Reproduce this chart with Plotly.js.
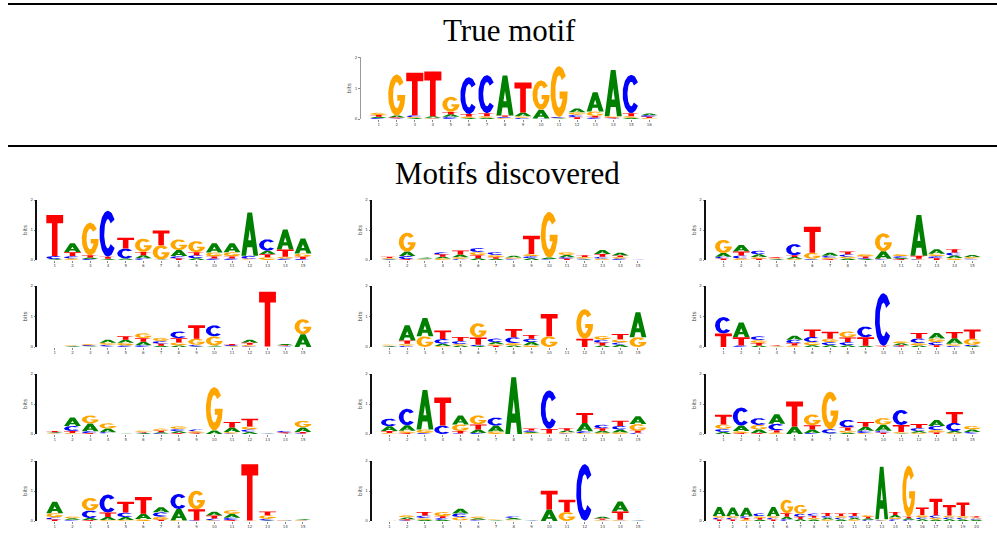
<!DOCTYPE html>
<html>
<head>
<meta charset="utf-8">
<script src="https://cdn.plot.ly/plotly-3.0.1.min.js"></script>
<style>
html, body { margin: 0; padding: 0; background: #fff; }
#chart { width: 997px; height: 547px; }
</style>
</head>
<body>
<div id="chart"></div>
<script>
// Information content (bits) of each base at each motif position.

// True motif, 16 positions
const trueA = [0.04,0.06,0.03,0.05,0.08,0.03,0.04,1.30,0.12,0.28,0.02,0.12,0.63,1.50,0.04,0.06];
const trueC = [0.03,0.02,0.06,0.02,0.07,1.19,1.23,0.04,0.04,0.01,0.03,0.08,0.05,0.02,1.24,0.05];
const trueG = [0.07,1.33,0.03,0.02,0.49,0.05,0.05,0.03,0.05,0.95,1.64,0.08,0.14,0.04,0.05,0.03];
const trueT = [0.06,0.03,1.38,1.45,0.08,0.08,0.10,0.04,0.97,0.01,0.02,0.06,0.05,0.03,0.10,0.04];

// Discovered motif 1
const m1A = [0.02,0.30,0.05,0.03,0.04,0.10,0.01,0.20,0.06,0.31,0.30,1.44,0.12,0.67,0.50];
const m1C = [0.10,0.08,0.03,1.53,0.33,0.06,0.01,0.08,0.10,0.05,0.05,0.10,0.38,0.05,0.03];
const m1G = [0.01,0.05,1.08,0.01,0.01,0.44,0.47,0.36,0.37,0.13,0.14,0.02,0.09,0.06,0.11];
const m1T = [1.37,0.13,0.08,0.07,0.36,0.11,0.49,0.05,0.10,0.07,0.07,0.02,0.10,0.24,0.08];

// Discovered motif 2
const m2A = [0.02,0.15,0.03,0.06,0.09,0.06,0.04,0.06,0.06,0.05,0.08,0.02,0.13,0.09,0.003];
const m2C = [0.02,0.10,0.01,0.08,0.04,0.13,0.10,0.02,0.07,0.02,0.05,0.03,0.07,0.05,0.003];
const m2G = [0.03,0.63,0.02,0.05,0.05,0.11,0.08,0.04,0.07,1.52,0.10,0.05,0.04,0.05,0.003];
const m2T = [0.04,0.03,0.02,0.07,0.14,0.10,0.05,0.02,0.61,0.01,0.04,0.06,0.09,0.05,0.003];

// Discovered motif 3
const m3A = [0.12,0.22,0.09,0.02,0.06,0.01,0.10,0.05,0.03,0.25,0.04,1.36,0.15,0.08,0.07];
const m3C = [0.06,0.10,0.12,0.01,0.37,0.03,0.06,0.08,0.03,0.02,0.06,0.02,0.07,0.10,0.03];
const m3G = [0.44,0.05,0.06,0.03,0.04,0.20,0.05,0.06,0.08,0.60,0.07,0.02,0.08,0.07,0.05];
const m3T = [0.05,0.13,0.04,0.03,0.06,0.87,0.03,0.09,0.06,0.02,0.03,0.10,0.06,0.11,0.02];

// Discovered motif 4
const m4A = [0.005,0.02,0.02,0.10,0.10,0.11,0.04,0.05,0.02,0.03,0.01,0.10,0.005,0.04,0.42];
const m4C = [0.005,0.01,0.03,0.05,0.05,0.06,0.09,0.22,0.05,0.36,0.03,0.02,0.005,0.02,0.0];
const m4G = [0.005,0.02,0.03,0.07,0.09,0.16,0.10,0.10,0.20,0.30,0.02,0.05,0.005,0.01,0.49];
const m4T = [0.005,0.01,0.02,0.02,0.11,0.12,0.07,0.14,0.44,0.02,0.04,0.07,1.80,0.03,0.0];

// Discovered motif 5
const m5A = [0.02,0.50,0.60,0.08,0.05,0.03,0.07,0.05,0.10,0.0,0.003,0.0,0.05,0.07,0.82];
const m5C = [0.01,0.04,0.0,0.15,0.10,0.04,0.12,0.19,0.11,0.0,0.003,0.0,0.10,0.08,0.0];
const m5G = [0.03,0.07,0.35,0.03,0.05,0.47,0.05,0.08,0.06,0.35,0.003,0.97,0.12,0.10,0.32];
const m5T = [0.02,0.10,0.0,0.28,0.13,0.24,0.04,0.27,0.12,0.73,0.003,0.27,0.09,0.18,0.0];

// Discovered motif 6
const m6A = [0.0,0.48,0.05,0.01,0.13,0.06,0.06,0.06,0.04,0.0,0.06,0.05,0.18,0.18,0.03];
const m6C = [0.54,0.05,0.12,0.0,0.12,0.17,0.10,0.10,0.35,1.72,0.02,0.15,0.10,0.04,0.04];
const m6G = [0.0,0.0,0.10,0.02,0.05,0.10,0.11,0.20,0.0,0.01,0.07,0.08,0.12,0.07,0.20];
const m6T = [0.44,0.27,0.08,0.03,0.07,0.24,0.23,0.15,0.28,0.03,0.04,0.18,0.06,0.20,0.30];

// Discovered motif 7
const m7A = [0.03,0.28,0.26,0.12,0.01,0.03,0.04,0.06,0.01,0.12,0.15,0.07,0.01,0.01,0.15];
const m7C = [0.01,0.17,0.06,0.04,0.01,0.01,0.02,0.08,0.06,0.0,0.02,0.08,0.01,0.05,0.02];
const m7G = [0.02,0.03,0.27,0.18,0.005,0.05,0.07,0.09,0.05,1.44,0.05,0.10,0.01,0.01,0.22];
const m7T = [0.04,0.07,0.03,0.02,0.005,0.03,0.05,0.03,0.03,0.0,0.18,0.26,0.01,0.03,0.05];

// Discovered motif 8
const m8A = [0.16,0.18,1.32,0.0,0.30,0.12,0.20,1.89,0.04,0.0,0.06,0.28,0.07,0.10,0.26];
const m8C = [0.25,0.55,0.03,0.28,0.02,0.03,0.27,0.0,0.05,1.28,0.02,0.06,0.12,0.12,0.04];
const m8G = [0.03,0.08,0.12,0.0,0.22,0.30,0.08,0.0,0.03,0.02,0.04,0.03,0.04,0.05,0.22];
const m8T = [0.07,0.03,0.0,0.94,0.08,0.17,0.0,0.0,0.06,0.15,0.07,0.33,0.08,0.17,0.07];

// Discovered motif 9
const m9A = [0.07,0.18,0.12,0.32,0.25,0.12,0.02,0.04,0.13,0.20,0.02,0.06,0.20,0.06,0.08];
const m9C = [0.10,0.60,0.23,0.22,0.0,0.03,0.14,0.25,0.08,0.07,0.50,0.10,0.14,0.27,0.05];
const m9G = [0.15,0.07,0.15,0.05,0.0,0.36,1.25,0.08,0.03,0.22,0.05,0.04,0.08,0.04,0.12];
const m9T = [0.32,0.03,0.03,0.07,0.83,0.14,0.0,0.10,0.16,0.04,0.23,0.13,0.05,0.36,0.02];

// Discovered motif 10
const m10A = [0.38,0.05,0.07,0.10,0.10,0.17,0.17,0.38,0.0,0.13,0.12,0.005,0.02,0.01,0.03];
const m10C = [0.07,0.03,0.25,0.60,0.15,0.0,0.15,0.50,0.02,0.06,0.08,0.005,0.05,0.01,0.01];
const m10G = [0.14,0.06,0.42,0.03,0.03,0.07,0.10,0.02,0.62,0.02,0.13,0.005,0.12,0.01,0.02];
const m10T = [0.05,0.01,0.03,0.15,0.36,0.56,0.04,0.0,0.37,0.10,0.03,1.88,0.13,0.005,0.0];

// Discovered motif 11
const m11A = [0.005,0.06,0.04,0.04,0.16,0.05,0.02,0.05,0.01,0.38,0.0,0.005,0.06,0.33,0.01];
const m11C = [0.005,0.02,0.08,0.06,0.12,0.02,0.005,0.06,0.01,0.0,0.0,1.88,0.01,0.01,0.01];
const m11G = [0.005,0.07,0.06,0.14,0.11,0.06,0.02,0.03,0.01,0.0,0.30,0.005,0.03,0.03,0.01];
const m11T = [0.005,0.04,0.12,0.06,0.02,0.02,0.01,0.02,0.01,0.63,0.41,0.005,0.04,0.28,0.01];

// Discovered motif 12, 20 positions
const m12A = [0.30,0.28,0.28,0.05,0.30,0.08,0.06,0.05,0.06,0.05,0.06,0.05,1.75,0.08,0.05,0.06,0.05,0.06,0.05,0.04];
const m12C = [0.06,0.06,0.06,0.10,0.06,0.06,0.10,0.08,0.06,0.06,0.06,0.04,0.02,0.06,0.04,0.06,0.08,0.06,0.06,0.04];
const m12G = [0.06,0.06,0.05,0.06,0.06,0.45,0.30,0.06,0.05,0.06,0.05,0.06,0.02,0.06,1.70,0.08,0.06,0.06,0.06,0.04];
const m12T = [0.05,0.05,0.05,0.05,0.05,0.12,0.08,0.06,0.10,0.08,0.10,0.05,0.02,0.10,0.05,0.25,0.55,0.35,0.45,0.04];

const BASES = ['A', 'C', 'G', 'T'];
const BASE_COLORS = { A: '#008000', C: '#0000ff', G: '#ffa500', T: '#ff0000' };

// Plot boxes in pixels: left, right, top (2 bits), bottom (0 bits)
const panels = [
  { A: trueA, C: trueC, G: trueG, T: trueT, box: [360.7, 667.3, 57.3, 119.0], spine: '#9a9a9a', spineWidth: 1 },
  { A: m1A,  C: m1C,  G: m1G,  T: m1T,  box: [37.0, 320.7, 200, 260] },
  { A: m2A,  C: m2C,  G: m2G,  T: m2T,  box: [371.7, 655.7, 200, 260] },
  { A: m3A,  C: m3C,  G: m3G,  T: m3T,  box: [705.7, 990.0, 200, 260] },
  { A: m4A,  C: m4C,  G: m4G,  T: m4T,  box: [37.0, 320.7, 286, 347] },
  { A: m5A,  C: m5C,  G: m5G,  T: m5T,  box: [371.7, 655.7, 286, 347] },
  { A: m6A,  C: m6C,  G: m6G,  T: m6T,  box: [705.7, 990.0, 286, 347] },
  { A: m7A,  C: m7C,  G: m7G,  T: m7T,  box: [37.0, 320.7, 374, 434] },
  { A: m8A,  C: m8C,  G: m8G,  T: m8T,  box: [371.7, 655.7, 374, 434] },
  { A: m9A,  C: m9C,  G: m9G,  T: m9T,  box: [705.7, 990.0, 374, 434] },
  { A: m10A, C: m10C, G: m10G, T: m10T, box: [37.0, 320.7, 461, 521] },
  { A: m11A, C: m11C, G: m11G, T: m11T, box: [371.7, 655.7, 461, 521] },
  { A: m12A, C: m12C, G: m12G, T: m12T, box: [705.7, 990.0, 461, 521] }
];

const W = 997, H = 547;

// Letter outlines in a unit box (u to the right, v upwards)
function arc(rx, ry, a0, a1, n) {
  const pts = [];
  for (let i = 0; i <= n; i++) {
    const a = (a0 + (a1 - a0) * i / n) * Math.PI / 180;
    pts.push([0.5 + rx * Math.cos(a), 0.5 + ry * Math.sin(a)]);
  }
  return pts;
}
const GLYPHS = {
  T: [[0, 1], [1, 1], [1, 0.8], [0.665, 0.8], [0.665, 0], [0.335, 0], [0.335, 0.8], [0, 0.8]],
  A: [[0, 0], [0.36, 1], [0.64, 1], [1, 0], [0.72, 0], [0.648, 0.2], [0.5, 0.2], [0.5, 0.36],
      [0.59, 0.36], [0.5, 0.611], [0.41, 0.36], [0.5, 0.36], [0.5, 0.2], [0.352, 0.2], [0.28, 0]],
  C: arc(0.5, 0.5, 38, 322, 48).concat(arc(0.22, 0.32, 316, 44, 48)),
  G: arc(0.5, 0.5, 38, 360, 52)
      .concat([[1, 0.5], [0.53, 0.5], [0.53, 0.36], [0.72, 0.36]])
      .concat(arc(0.22, 0.32, 334, 44, 48))
};

const LETTER_WIDTH = 0.95;
const traces = [];
const layout = {
  width: W, height: H,
  margin: { l: 0, r: 0, t: 0, b: 0 },
  paper_bgcolor: '#ffffff',
  plot_bgcolor: 'rgba(0,0,0,0)',
  showlegend: false,
  font: { family: 'DejaVu Sans, sans-serif', color: '#333' },
  shapes: [
    { type: 'line', xref: 'paper', yref: 'paper', x0: 8 / W, x1: 1, y0: 1 - 4 / H, y1: 1 - 4 / H, line: { color: '#000', width: 2 } },
    { type: 'line', xref: 'paper', yref: 'paper', x0: 8 / W, x1: 1, y0: 1 - 146 / H, y1: 1 - 146 / H, line: { color: '#000', width: 2 } }
  ],
  annotations: [
    { text: 'True motif', xref: 'paper', yref: 'paper', x: 509 / W, y: 1 - 31 / H, xanchor: 'center', yanchor: 'middle', showarrow: false,
      font: { family: 'Liberation Serif, serif', size: 31, color: '#000' } },
    { text: 'Motifs discovered', xref: 'paper', yref: 'paper', x: 508 / W, y: 1 - 173 / H, xanchor: 'center', yanchor: 'middle', showarrow: false,
      font: { family: 'Liberation Serif, serif', size: 31, color: '#000' } }
  ]
};

panels.forEach((p, i) => {
  const k = i + 1;
  const xa = k === 1 ? 'x' : 'x' + k;
  const ya = k === 1 ? 'y' : 'y' + k;
  const L = p.A.length;
  const polys = { A: { x: [], y: [] }, C: { x: [], y: [] }, G: { x: [], y: [] }, T: { x: [], y: [] } };

  for (let j = 0; j < L; j++) {
    const pos = j + 1;
    // smallest contribution at the bottom of the stack
    const stack = BASES.map(b => ({ b, h: p[b][j] })).sort((a, c) => a.h - c.h);
    let base = 0;
    stack.forEach(({ b, h }) => {
      if (h > 0) {
        const left = pos - LETTER_WIDTH / 2;
        GLYPHS[b].forEach(([u, v]) => {
          polys[b].x.push(left + u * LETTER_WIDTH);
          polys[b].y.push(base + v * h);
        });
        polys[b].x.push(null);
        polys[b].y.push(null);
      }
      base += h;
    });
  }

  BASES.forEach(b => {
    traces.push({
      type: 'scatter', mode: 'lines', xaxis: xa, yaxis: ya,
      x: polys[b].x, y: polys[b].y,
      fill: 'toself', fillcolor: BASE_COLORS[b],
      line: { width: 0, color: BASE_COLORS[b] },
      hoverinfo: 'skip', showlegend: false
    });
  });

  const [x0, x1, yTop, yBot] = p.box;
  const positions = Array.from({ length: L }, (_, j) => j + 1);
  layout[k === 1 ? 'xaxis' : 'xaxis' + k] = {
    domain: [x0 / W, x1 / W], range: [0, L + 1], anchor: ya,
    tickvals: positions, ticktext: positions.map(String),
    tickfont: { size: 4, color: '#444' },
    ticks: 'outside', ticklen: 1.5, tickwidth: 0.7, tickcolor: '#555',
    showline: false, showgrid: false, zeroline: false, fixedrange: true
  };
  layout[k === 1 ? 'yaxis' : 'yaxis' + k] = {
    domain: [1 - yBot / H, 1 - yTop / H], range: [0, 2], anchor: xa,
    tickvals: [0, 1, 2], ticktext: ['0', '1', '2'],
    tickfont: { size: 4, color: '#444' },
    ticks: 'outside', ticklen: 1.5, tickwidth: 0.7, tickcolor: '#555',
    showline: true, linecolor: p.spine || '#111', linewidth: p.spineWidth || 1.6,
    showgrid: false, zeroline: false, fixedrange: true,
    title: { text: 'bits', font: { size: 5.5, color: '#444' }, standoff: 2 }
  };
});

Plotly.newPlot('chart', traces, layout, { staticPlot: true, displayModeBar: false });
</script>
</body>
</html>
